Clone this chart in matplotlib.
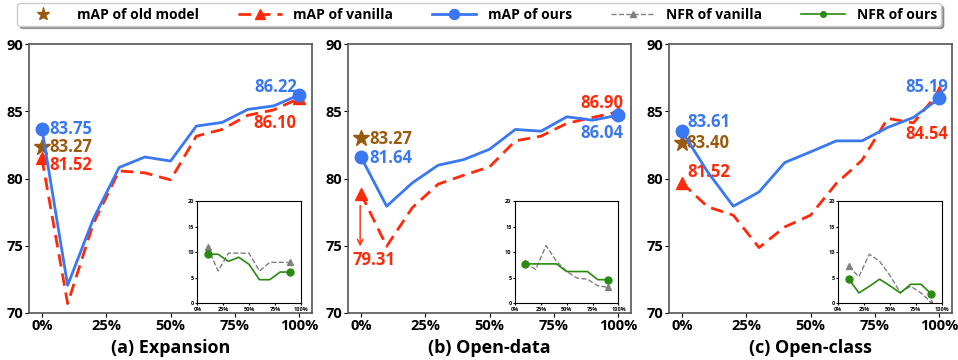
import matplotlib.pyplot as plt
import numpy as np

plt.rcParams['font.family'] = ['Open Sans', 'DejaVu Sans']
plt.rcParams['font.weight'] = 'bold'

x_main = [0.0, 0.1, 0.2, 0.3, 0.4, 0.5, 0.6, 0.7, 0.8, 0.9, 1.0]
x_nfr = [0.1, 0.2, 0.3, 0.4, 0.5, 0.6, 0.7, 0.8, 0.9]

titles = ['(a) Expansion', '(b) Open-data', '(c) Open-class']

ours = [
    [83.72, 72.06, 77.0, 80.82, 81.6, 81.3, 83.9, 84.17, 85.14, 85.4, 86.22],
    [81.61, 77.94, 79.68, 80.99, 81.41, 82.18, 83.65, 83.52, 84.59, 84.34, 84.71],
    [83.52, 80.5, 77.94, 79.0, 81.19, 81.98, 82.8, 82.8, 83.8, 84.54, 85.96],
]
vanilla = [
    [81.49, 70.7, 76.65, 80.57, 80.42, 79.9, 83.15, 83.65, 84.7, 85.1, 85.96],
    [78.88, 74.96, 77.84, 79.58, 80.25, 80.87, 82.8, 83.15, 84.1, 84.54, 84.96],
    [79.68, 77.9, 77.27, 74.86, 76.4, 77.27, 79.63, 81.36, 84.47, 84.14, 86.45],
]
old_model = [82.36, 83.05, 82.65]

nfr_vanilla = [
    [11.0, 6.3, 9.8, 9.8, 9.8, 6.3, 8.0, 8.0, 8.0],
    [7.9, 6.6, 11.3, 8.2, 6.2, 4.9, 4.7, 3.4, 3.1],
    [7.2, 5.2, 9.6, 8.2, 5.4, 2.1, 3.3, 2.0, 0.1],
]
nfr_ours = [
    [9.6, 9.6, 8.2, 9.0, 7.6, 4.6, 4.6, 6.1, 6.1],
    [7.7, 7.7, 7.7, 7.7, 6.2, 6.2, 6.2, 4.6, 4.6],
    [4.8, 2.0, 3.3, 4.7, 3.4, 2.0, 3.7, 3.7, 1.8],
]

c_blue = '#3a78f2'
c_red = '#ff2a0a'
c_brown = '#9a5a0e'
c_green = '#2a8a10'
c_gray = '#808080'

# value labels: (text, x, y, ha, color)
labels = [
    [('83.75', 0.03, 83.66, 'left', c_blue), ('83.27', 0.03, 82.32, 'left', c_brown),
     ('81.52', 0.03, 81.0, 'left', c_red), ('86.22', 0.99, 86.83, 'right', c_blue),
     ('86.10', 0.99, 84.15, 'right', c_red)],
    [('83.27', 0.034, 82.91, 'left', c_brown), ('81.64', 0.034, 81.55, 'left', c_blue),
     ('79.31', 0.05, 73.94, 'center', c_red), ('86.90', 1.02, 85.59, 'right', c_red),
     ('86.04', 1.02, 83.41, 'right', c_blue)],
    [('83.61', 0.02, 84.18, 'left', c_blue), ('83.40', 0.016, 82.62, 'left', c_brown),
     ('81.52', 0.02, 80.46, 'left', c_red), ('85.19', 1.037, 86.83, 'right', c_blue),
     ('84.54', 1.037, 83.31, 'right', c_red)],
]

fig = plt.figure(figsize=(9.58, 3.6), dpi=100)
lefts = [0.0303, 0.3633, 0.6983]
inset_lefts = [0.206, 0.5376, 0.875]

handles = None
for i in range(3):
    ax = fig.add_axes([lefts[i], 0.1306, 0.2955, 0.747])
    h_old = ax.plot([0], [old_model[i]], linestyle='none', marker='*', color=c_brown,
                    markersize=12, zorder=4, label='mAP of old model')[0]
    h_van = ax.plot(x_main, vanilla[i], '--', color=c_red, lw=2, marker='^', markersize=9,
                    markevery=[0, len(x_main) - 1], dashes=(4.5, 2.5), zorder=3,
                    label='mAP of vanilla')[0]
    h_ours = ax.plot(x_main, ours[i], '-', color=c_blue, lw=2, marker='o', markersize=9,
                     markevery=[0, len(x_main) - 1], zorder=5, label='mAP of ours')[0]
    for txt, tx, ty, ha, col in labels[i]:
        ax.text(tx, ty, txt, ha=ha, va='center', color=col, fontsize=12, fontweight='bold')
    if i == 1:
        ax.annotate('', xy=(-0.003, 74.75), xytext=(-0.003, 78.2),
                    arrowprops=dict(arrowstyle='->', color=c_red, lw=1))
    ax.set_xlim(-0.05, 1.05)
    ax.set_ylim(70, 90)
    ax.set_xticks([0, 0.25, 0.5, 0.75, 1.0])
    ax.set_xticklabels(['0%', '25%', '50%', '75%', '100%'])
    ax.set_yticks([70, 75, 80, 85, 90])
    ax.tick_params(labelsize=10.5, length=3, pad=1)
    for s in ax.spines.values():
        s.set_color('#555555')
        s.set_linewidth(1.2)
    ax.set_xlabel(titles[i], fontsize=13, fontweight='bold', labelpad=5)

    ins = fig.add_axes([inset_lefts[i], 0.158, 0.108, 0.283])
    h_nv = ins.plot(x_nfr, nfr_vanilla[i], '--', color=c_gray, lw=1, marker='^', markersize=5,
                    markevery=[0, len(x_nfr) - 1], label='NFR of vanilla')[0]
    h_no = ins.plot(x_nfr, nfr_ours[i], '-', color=c_green, lw=1.2, marker='o', markersize=5,
                    markevery=[0, len(x_nfr) - 1], label='NFR of ours')[0]
    ins.set_xlim(0, 1)
    ins.set_ylim(0, 20)
    ins.set_xticks([0, 0.25, 0.5, 0.75, 1.0])
    ins.set_xticklabels(['0%', '25%', '50%', '75%', '100%'])
    ins.set_yticks([0, 5, 10, 15, 20])
    ins.tick_params(labelsize=4, length=1.5, pad=1)
    for s in ins.spines.values():
        s.set_color('black')
        s.set_linewidth(0.8)
    handles = [h_old, h_van, h_ours, h_nv, h_no]

leg = fig.legend(handles=handles, loc='upper center', bbox_to_anchor=(0.5, 1.01), ncol=5,
                 frameon=True, fancybox=True, shadow=True, handlelength=3.2,
                 columnspacing=2.8, borderpad=0.3, markerscale=0.8,
                 prop={'weight': 'bold', 'size': 10})

fig.savefig('out.png', dpi=100)
